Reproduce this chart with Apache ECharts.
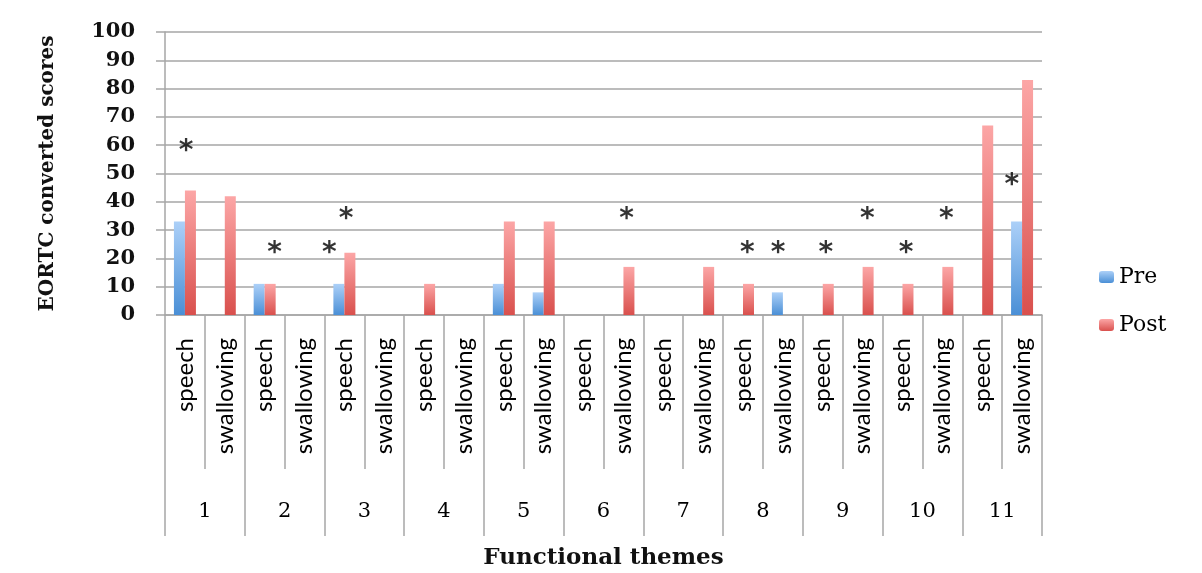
<!DOCTYPE html>
<html>
<head>
<meta charset="utf-8">
<script src="https://cdn.jsdelivr.net/npm/echarts@6/dist/echarts.min.js"></script>
<style>
  html, body { margin: 0; padding: 0; background: #fff; }
  #chart { width: 1202px; height: 573px; }
</style>
</head>
<body>
<div id="chart"></div>
<script>
// data
const themes = ["1", "2", "3", "4", "5", "6", "7", "8", "9", "10", "11"];
const subItems = ["speech", "swallowing"];
const preValues = [33, 0, 11, 0, 11, 0, 0, 0, 11, 8, 0, 0, 0, 0, 0, 8, 0, 0, 0, 0, 0, 33];
const postValues = [44, 42, 11, 0, 22, 0, 11, 0, 33, 33, 0, 17, 0, 17, 11, 0, 11, 17, 11, 17, 67, 83];
// significance asterisks: position along the 22 category slots, and score level
const starSlot = [0.53, 2.75, 4.12, 4.54, 11.58, 14.61, 15.38, 16.58, 17.62, 18.59, 19.6, 21.24];
const starLevel = [60, 24, 24, 36, 36, 24, 24, 24, 36, 24, 36, 48];
const yTicks = [0, 10, 20, 30, 40, 50, 60, 70, 80, 90, 100];

const categories = [];
themes.forEach(() => subItems.forEach((s) => categories.push(s)));
const starData = starSlot.map((x, i) => [x, starLevel[i]]);

const gridColor = "#a6a6a6";
const serif = "DejaVu Serif";

const chart = echarts.init(document.getElementById("chart"));

chart.setOption({
  animation: false,
  backgroundColor: "#fff",
  grid: { left: 165, right: 160, top: 32, bottom: 258 },
  legend: {
    orient: "vertical",
    left: 1094,
    top: 261,
    itemWidth: 15,
    itemHeight: 12,
    itemGap: 26,
    data: ["Pre", "Post"],
    textStyle: { fontFamily: serif, fontSize: 22, color: "#000" },
  },
  xAxis: [
    {
      type: "category",
      data: categories,
      position: "bottom",
      axisLine: { show: true, lineStyle: { color: gridColor, width: 1.5 } },
      axisTick: { show: true, interval: 0, length: 154, lineStyle: { color: gridColor, width: 1.5 } },
      axisLabel: {
        interval: 0,
        rotate: 90,
        margin: 23,
        fontFamily: "Lato",
        fontSize: 24,
        color: "#000",
      },
    },
    {
      type: "category",
      data: themes,
      position: "bottom",
      axisLine: { show: false },
      axisTick: { show: true, interval: 0, length: 221, lineStyle: { color: gridColor, width: 1.5 } },
      axisLabel: {
        interval: 0,
        margin: 186,
        fontFamily: serif,
        fontSize: 21,
        color: "#000",
      },
      name: "Functional themes",
      nameLocation: "middle",
      nameGap: 232,
      nameTextStyle: { fontFamily: serif, fontSize: 23, fontWeight: "bold", color: "#111" },
    },
    {
      type: "value",
      min: 0,
      max: categories.length,
      show: false,
    },
  ],
  yAxis: {
    type: "value",
    min: 0,
    max: 100,
    interval: 10,
    axisLine: { show: true, lineStyle: { color: gridColor, width: 1.5 } },
    axisTick: { show: true, length: 9, lineStyle: { color: gridColor, width: 1.5 } },
    splitLine: { show: true, lineStyle: { color: gridColor, width: 1.5 } },
    axisLabel: {
      margin: 30,
      fontFamily: serif,
      fontSize: 21,
      fontWeight: "bold",
      color: "#111",
      formatter: (v) => (yTicks.indexOf(v) >= 0 ? String(v) : ""),
    },
    name: "EORTC converted scores",
    nameLocation: "middle",
    nameGap: 107,
    nameTextStyle: { fontFamily: serif, fontSize: 20, fontWeight: "bold", color: "#111" },
  },
  series: [
    {
      name: "Pre",
      type: "bar",
      xAxisIndex: 0,
      barWidth: 11,
      barGap: "0%",
      data: preValues,
      itemStyle: {
        color: new echarts.graphic.LinearGradient(0, 0, 0, 1, [
          { offset: 0, color: "#acd0f8" },
          { offset: 1, color: "#4a8fd6" },
        ]),
      },
    },
    {
      name: "Post",
      type: "bar",
      xAxisIndex: 0,
      barWidth: 11,
      barGap: "0%",
      data: postValues,
      itemStyle: {
        color: new echarts.graphic.LinearGradient(0, 0, 0, 1, [
          { offset: 0, color: "#fca6a6" },
          { offset: 1, color: "#d9504d" },
        ]),
      },
    },
    {
      name: "sig",
      type: "scatter",
      xAxisIndex: 2,
      symbolSize: 1,
      itemStyle: { color: "rgba(0,0,0,0)" },
      silent: true,
      data: starData,
      label: {
        show: true,
        position: "inside",
        formatter: "*",
        fontFamily: "DejaVu Sans",
        fontSize: 28,
        fontWeight: "bold",
        color: "#000",
        offset: [0, 7],
      },
    },
  ],
});
</script>
</body>
</html>
